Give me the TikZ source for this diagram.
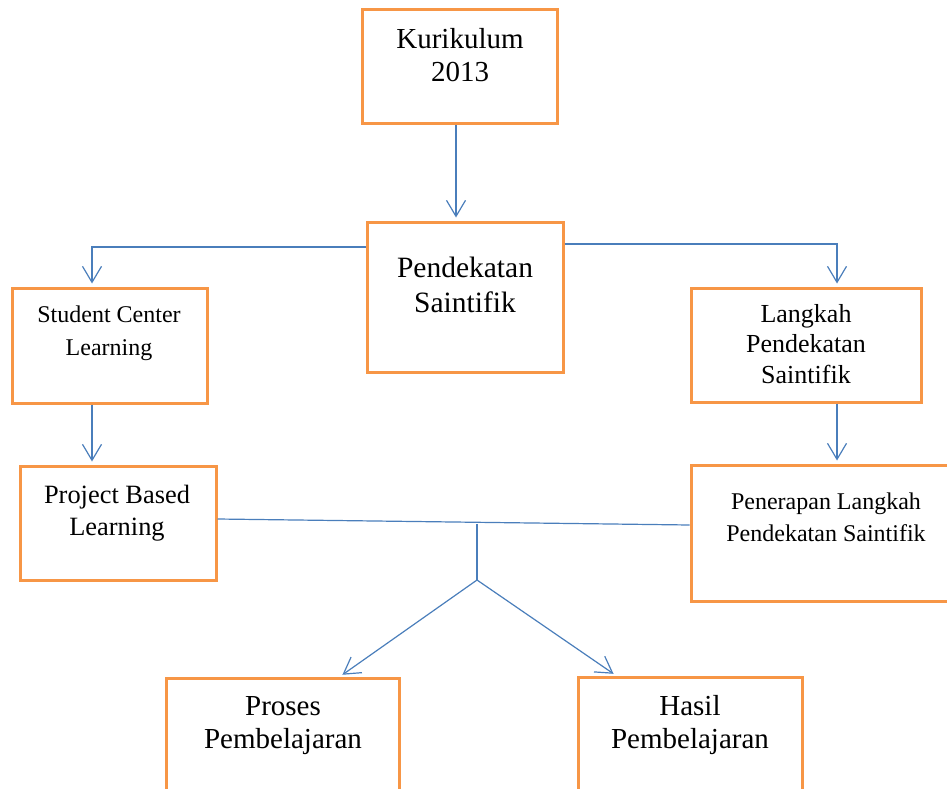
\documentclass[tikz,border=0pt]{standalone}
\usepackage{fontspec}
\setmainfont{Liberation Serif}
\usetikzlibrary{arrows.meta}
\definecolor{boxorange}{HTML}{F79646}
\definecolor{linkblue}{HTML}{4A7EBB}
\tikzset{
  box/.style={draw=boxorange, line width=3pt, rectangle, inner sep=0pt, fill=none},
  txt/.style={inner sep=0pt, align=center, anchor=north},
  conn/.style={draw=linkblue, line width=1.2pt},
  arr/.style={conn, -{Straight Barb[length=16pt,width=19pt]}, shorten >=3pt},
}
\begin{document}
\begin{tikzpicture}[x=1pt,y=-1pt]
\path[use as bounding box, clip] (0,0) rectangle (947,789);
% boxes
\node[box, minimum width=195pt, minimum height=114pt] (k)  at (459.5,67) {};
\node[box, minimum width=196pt, minimum height=150pt] (p)  at (465,297) {};
\node[box, minimum width=195pt, minimum height=115pt] (s)  at (109.5,345.5) {};
\node[box, minimum width=230pt, minimum height=114pt] (l)  at (806,345) {};
\node[box, minimum width=196pt, minimum height=114pt] (pb) at (118,523) {};
\node[box, minimum width=270pt, minimum height=136pt] (pe) at (826,533) {};
\node[box, minimum width=233pt, minimum height=150pt] (pr) at (282.5,753) {};
\node[box, minimum width=224pt, minimum height=150pt] (h)  at (690,752) {};
% texts
\node[txt, font={\fontsize{29}{33}\selectfont}] (kt) at (460,24.9) {\strut Kurikulum\\\strut 2013};
\node[txt, font={\fontsize{29.5}{35}\selectfont}] (pt) at (465,252.5) {\strut Pendekatan\\\strut Saintifik};
\node[txt, font={\fontsize{24}{33}\selectfont}] (st) at (109,298.9) {\strut Student Center\\\strut Learning};
\node[txt, font={\fontsize{26}{30.5}\selectfont}] (lt) at (806,300.65) {\strut Langkah\\\strut Pendekatan\\\strut Saintifik};
\node[txt, font={\fontsize{26.4}{32}\selectfont}] (pbt) at (117,480.6) {\strut Project Based\\\strut Learning};
\node[txt, font={\fontsize{24}{32}\selectfont}] (pet) at (826,486.6) {\strut Penerapan Langkah\\\strut Pendekatan Saintifik};
\node[txt, font={\fontsize{29}{33}\selectfont}] (prt) at (283,691.9) {\strut Proses\\\strut Pembelajaran};
\node[txt, font={\fontsize{29}{33}\selectfont}] (ht) at (690,691.9) {\strut Hasil\\\strut Pembelajaran};
% helper coordinates
\coordinate (c456) at (456,0);
\coordinate (c92) at (92,0);
\coordinate (c837) at (837,0);
\coordinate (c340) at (340,0);
\coordinate (c616) at (616,0);
\coordinate (r247) at (0,247);
\coordinate (r244) at (0,244);
\coordinate (pbe) at (pb.east |- 0,519);
\coordinate (pew) at (pe.west |- 0,525);
\coordinate (j1) at (477,524);
\coordinate (j2) at (477,580);
% connectors
\draw[arr] (k.south -| c456) -- (p.north -| c456);
\draw[arr] (p.west |- r247) -| (s.north -| c92);
\draw[arr] (p.east |- r244) -| (l.north -| c837);
\draw[arr] (s.south -| c92) -- (pb.north -| c92);
\draw[arr] (l.south -| c837) -- (pe.north -| c837);
\draw[conn] (pbe) -- (pew);
\draw[conn] (j1) -- (j2);
\draw[arr] (j2) -- (pr.north -| c340);
\draw[arr] (j2) -- (h.north -| c616);
\end{tikzpicture}
\end{document}
